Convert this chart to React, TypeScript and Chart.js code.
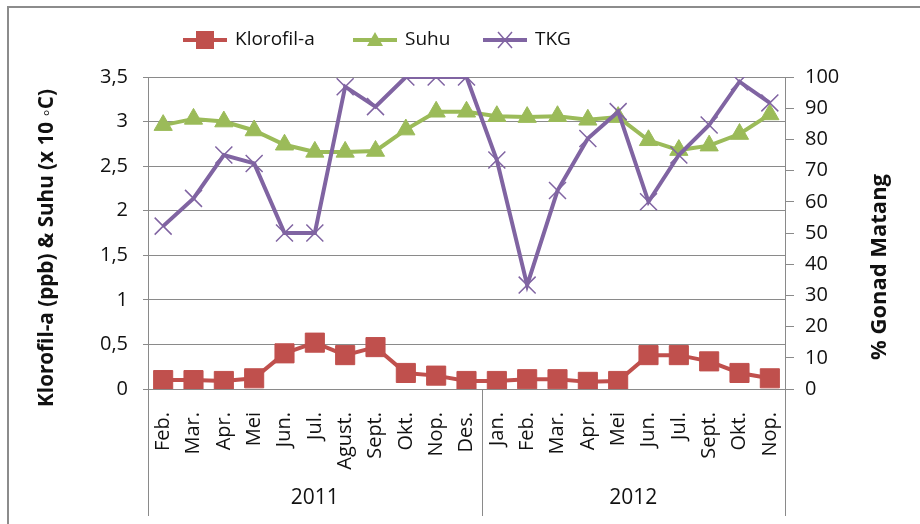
import React, { useEffect, useRef } from "react";
import { Chart, registerables } from "chart.js";

Chart.register(...registerables);

const months = ["Feb.", "Mar.", "Apr.", "Mei", "Jun.", "Jul.", "Agust.", "Sept.", "Okt.", "Nop.", "Des.", "Jan.", "Feb.", "Mar.", "Apr.", "Mei", "Jun.", "Jul.", "Sept.", "Okt.", "Nop."];
const years = ["2011", "2012"];
const yearSpans = [11, 10];
const klorofil = [0.10, 0.10, 0.09, 0.12, 0.40, 0.52, 0.38, 0.47, 0.18, 0.15, 0.09, 0.09, 0.11, 0.11, 0.08, 0.09, 0.38, 0.38, 0.31, 0.18, 0.12];
const suhu = [2.96, 3.03, 3.00, 2.90, 2.74, 2.66, 2.66, 2.67, 2.91, 3.11, 3.11, 3.06, 3.05, 3.06, 3.02, 3.05, 2.79, 2.68, 2.73, 2.86, 3.08];
const tkg = [52.2, 61.1, 75.0, 72.3, 50, 50, 96.9, 90.5, 100, 100, 100, 73.4, 33.3, 63.6, 80.3, 88.9, 60, 75, 84.6, 98.5, 91.7];
const seriesNames = ["Klorofil-a", "Suhu", "TKG"];
const leftTitle = "Klorofil-a (ppb) & Suhu (x 10 \u25E6C)";
const rightTitle = "% Gonad Matang";

const RED = "#C0504D";
const GREEN = "#9BBB59";
const PURPLE = "#8064A2";
const GRID = "#8a8a8a";
const FONT = "'Open Sans', 'Noto Sans', sans-serif";

function fitFont(ctx: any, text: string, target: number, weight: string) {
  ctx.font = `${weight} 20px ${FONT}`;
  const w = ctx.measureText(text).width;
  const size = (20 * target) / w;
  ctx.font = `${weight} ${size.toFixed(2)}px ${FONT}`;
}

const decorPlugin = {
  id: "decor",
  beforeDraw(chart: any) {
    const ctx = chart.ctx;
    ctx.save();
    ctx.fillStyle = "#fff";
    ctx.fillRect(0, 0, chart.width, chart.height);
    ctx.strokeStyle = "#8c8c8c";
    ctx.lineWidth = 2;
    ctx.strokeRect(8, 7, chart.width + 20, chart.height + 20);
    ctx.restore();
  },
  afterDraw(chart: any) {
    const ctx = chart.ctx;
    const area = chart.chartArea;
    const xs = chart.scales.x;
    ctx.save();
    const seps: number[] = [area.left];
    let idx = 0;
    yearSpans.forEach((n, i) => {
      idx += n;
      if (i < yearSpans.length - 1) {
        seps.push((xs.getPixelForValue(idx - 1) + xs.getPixelForValue(idx)) / 2);
      }
    });
    seps.push(area.right);
    ctx.strokeStyle = GRID;
    ctx.lineWidth = 1;
    seps.forEach((sx) => {
      ctx.beginPath();
      ctx.moveTo(Math.round(sx) + 0.5, area.bottom);
      ctx.lineTo(Math.round(sx) + 0.5, 516);
      ctx.stroke();
    });
    ctx.fillStyle = "#111";
    ctx.font = `21px ${FONT}`;
    ctx.textAlign = "center";
    ctx.textBaseline = "middle";
    years.forEach((y, i) => {
      ctx.fillText(y, (seps[i] + seps[i + 1]) / 2, 498);
    });

    ctx.save();
    fitFont(ctx, leftTitle, 318, "bold");
    ctx.translate(47, 248);
    ctx.rotate(-Math.PI / 2);
    ctx.fillText(leftTitle, 0, 0);
    ctx.restore();
    ctx.save();
    fitFont(ctx, rightTitle, 186, "bold");
    ctx.translate(880, 267);
    ctx.rotate(-Math.PI / 2);
    ctx.fillText(rightTitle, 0, 0);
    ctx.restore();

    const items = [
      { cx: 205, color: RED, style: "rect" },
      { cx: 375, color: GREEN, style: "triangle" },
      { cx: 505, color: PURPLE, style: "crossRot" },
    ];
    const ly = 40;
    ctx.font = `19px ${FONT}`;
    ctx.textAlign = "left";
    items.forEach((it, i) => {
      ctx.strokeStyle = it.color;
      ctx.lineWidth = 4;
      ctx.beginPath();
      ctx.moveTo(it.cx - 22, ly);
      ctx.lineTo(it.cx + 22, ly);
      ctx.stroke();
      ctx.fillStyle = it.color;
      ctx.lineWidth = 1.5;
      ctx.beginPath();
      if (it.style === "rect") {
        ctx.rect(it.cx - 9, ly - 9, 18, 18);
        ctx.fill();
      } else if (it.style === "triangle") {
        ctx.moveTo(it.cx, ly - 8);
        ctx.lineTo(it.cx + 8, ly + 6);
        ctx.lineTo(it.cx - 8, ly + 6);
        ctx.closePath();
        ctx.fill();
      } else {
        ctx.moveTo(it.cx - 7, ly - 8);
        ctx.lineTo(it.cx + 7, ly + 8);
        ctx.moveTo(it.cx + 7, ly - 8);
        ctx.lineTo(it.cx - 7, ly + 8);
        ctx.stroke();
      }
      ctx.fillStyle = "#111";
      ctx.fillText(seriesNames[i], it.cx + 30, ly);
    });
    ctx.restore();
  },
};

export default function App() {
  const ref = useRef<HTMLCanvasElement>(null);
  useEffect(() => {
    if (!ref.current) return;
    const chart = new Chart(ref.current, {
      type: "line",
      data: {
        labels: months,
        datasets: [
          {
            label: seriesNames[0],
            data: klorofil,
            yAxisID: "y",
            borderColor: RED,
            backgroundColor: RED,
            borderWidth: 4,
            pointStyle: "rect",
            pointRadius: 13.5,
            pointBorderWidth: 1,
            order: 3,
          },
          {
            label: seriesNames[1],
            data: suhu,
            yAxisID: "y",
            borderColor: GREEN,
            backgroundColor: GREEN,
            borderWidth: 4,
            pointStyle: "triangle",
            pointRadius: 10.5,
            pointBorderWidth: 1,
            order: 2,
          },
          {
            label: seriesNames[2],
            data: tkg,
            yAxisID: "y1",
            borderColor: PURPLE,
            backgroundColor: PURPLE,
            borderWidth: 4,
            pointStyle: "crossRot",
            pointRadius: 12,
            pointBorderWidth: 1.5,
            order: 1,
          },
        ],
      },
      options: {
        animation: false,
        responsive: true,
        maintainAspectRatio: false,
        layout: { padding: { top: 77, left: 0, right: 0, bottom: 0 } },
        plugins: { legend: { display: false }, tooltip: { enabled: false } },
        scales: {
          x: {
            type: "category",
            offset: true,
            grid: { display: false },
            border: { display: false },
            ticks: {
              autoSkip: false,
              minRotation: 90,
              maxRotation: 90,
              padding: 15,
              color: "#111",
              font: { family: FONT, size: 20 },
            },
            afterFit(scale: any) {
              scale.height = 135;
            },
          },
          y: {
            position: "left",
            min: 0,
            max: 3.5,
            grid: { color: GRID, lineWidth: 1, tickLength: 5 },
            border: { display: true, color: GRID },
            ticks: {
              stepSize: 0.5,
              padding: 15,
              color: "#111",
              font: { family: FONT, size: 20 },
              callback: (v: any) => String(v).replace(".", ","),
            },
            afterFit(scale: any) {
              scale.width = 148;
            },
          },
          y1: {
            position: "right",
            min: 0,
            max: 100,
            grid: { drawOnChartArea: false, color: GRID, tickLength: 9 },
            border: { display: true, color: GRID },
            ticks: {
              stepSize: 10,
              padding: 11,
              color: "#111",
              font: { family: FONT, size: 20 },
            },
            afterFit(scale: any) {
              scale.width = 135;
            },
          },
        },
      },
      plugins: [decorPlugin],
    });
    return () => chart.destroy();
  }, []);
  return (
    <div style={{ position: "absolute", left: 0, top: 0, width: 920, height: 524 }}>
      <canvas ref={ref} />
    </div>
  );
}
